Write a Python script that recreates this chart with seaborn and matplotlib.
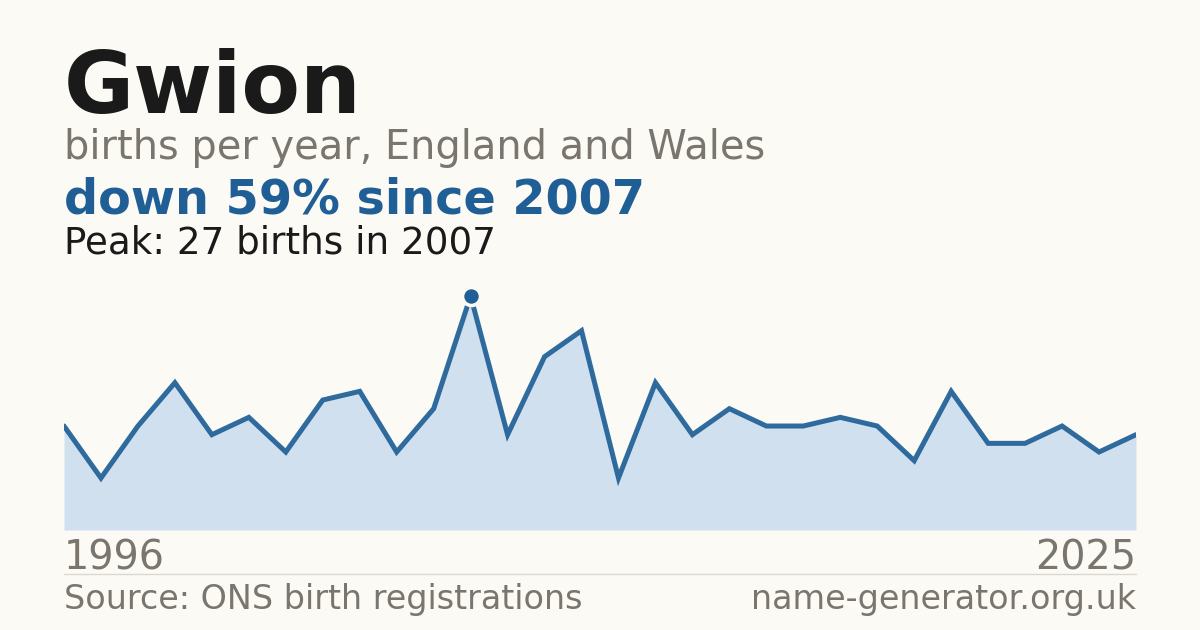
import pandas as pd
import matplotlib.pyplot as plt
import seaborn as sns

# Datos
anios = list(range(1996, 2026))
nacimientos = [12, 6, 12, 17, 11, 13, 9, 15, 16, 9, 14, 27, 11, 20, 23,
               6, 17, 11, 14, 12, 12, 13, 12, 8, 16, 10, 10, 12, 9, 11]

titulo = "Gwion"
subtitulo = "births per year, England and Wales"
destacado = "down 59% since 2007"
pico_txt = "Peak: 27 births in 2007"
fuente = "Source: ONS birth registrations"
sitio = "name-generator.org.uk"

FONDO = "#fbfaf5"
AZUL = "#1f5f96"
RELLENO = "#d0e0ef"
GRIS = "#7a756d"

df = pd.DataFrame({"anio": anios, "n": nacimientos})

sns.set_theme(style="white")
plt.rcParams['font.family'] = ['DejaVu Sans']

fig = plt.figure(figsize=(12, 6.3), dpi=100, facecolor=FONDO)
ax = fig.add_axes([64 / 1200, 100 / 630, 1072 / 1200, 251.3 / 630])
ax.set_facecolor(FONDO)

ax.fill_between(df["anio"], df["n"], 0, color=RELLENO, linewidth=0, zorder=1)
sns.lineplot(data=df, x="anio", y="n", color=AZUL, linewidth=3.6, ax=ax,
             alpha=0.92, solid_joinstyle="miter", zorder=2)

# punto del pico
ip = df["n"].idxmax()
ax.plot(df.loc[ip, "anio"], df.loc[ip, "n"], "o", color=AZUL, markersize=13,
        markeredgecolor=FONDO, markeredgewidth=2.6, zorder=3, clip_on=False)

ax.set_xlim(anios[0], anios[-1])
ax.set_ylim(0, 29)
ax.axis("off")
ax.axhline(0, color="#ece3d3", linewidth=1, zorder=0)

# Textos
fig.text(64 / 1200, 1 - 113 / 630, titulo, fontsize=61.6, fontweight="bold",
         color="#1a1a1a", va="baseline")
fig.text(64 / 1200, 1 - 159 / 630, subtitulo, fontsize=28.7, color=GRIS, va="baseline")
fig.text(64 / 1200, 1 - 214 / 630, destacado, fontsize=34.4, fontweight="bold",
         color=AZUL, va="baseline")
fig.text(64 / 1200, 1 - 253 / 630, pico_txt, fontsize=26.85, color="#1a1a1a", va="baseline")

fig.text(64 / 1200, 1 - 570 / 630, str(anios[0]), fontsize=28.6, color=GRIS, va="baseline")
fig.text(1136 / 1200, 1 - 570 / 630, str(anios[-1]), fontsize=28.6, color=GRIS,
         va="baseline", ha="right")

fig.add_artist(plt.Line2D([64 / 1200, 1136 / 1200], [1 - 574 / 630, 1 - 574 / 630],
                          color="#dcd8cf", linewidth=1))

fig.text(64 / 1200, 1 - 609 / 630, fuente, fontsize=24.0, color=GRIS, va="baseline")
fig.text(1136 / 1200, 1 - 609 / 630, sitio, fontsize=24.0, color=GRIS,
         va="baseline", ha="right")

fig.savefig("out.png", dpi=100, facecolor=FONDO)
